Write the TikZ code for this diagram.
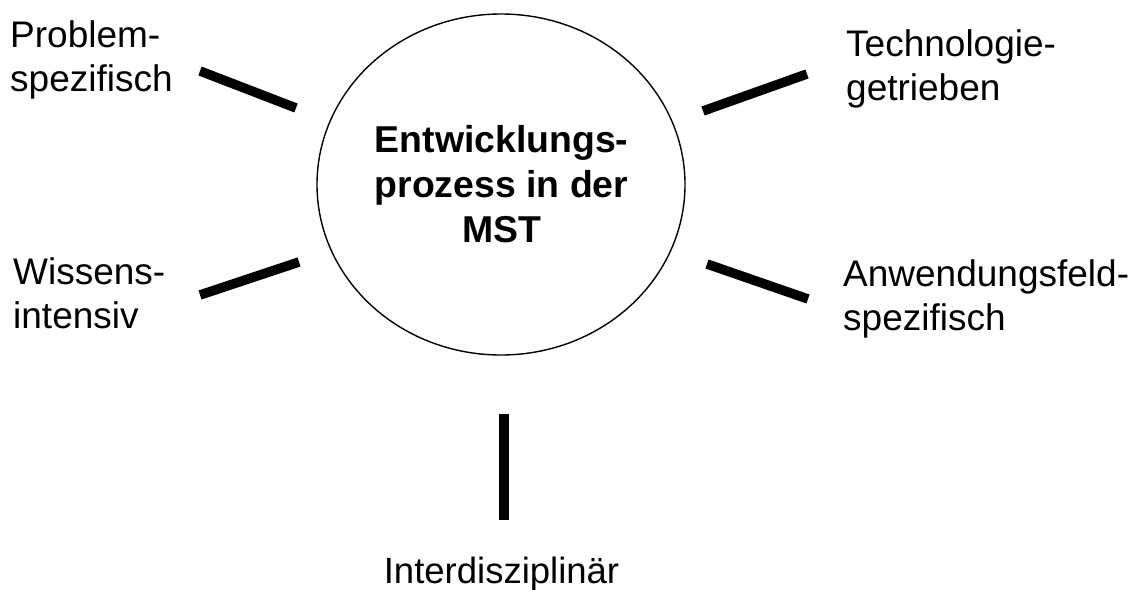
\documentclass[tikz,border=0pt]{standalone}
\usepackage{fontspec}
\setmainfont{Liberation Sans}
\begin{document}
\begin{tikzpicture}[x=1pt,y=-1pt,
  label/.style={inner sep=0pt, align=left, font=\fontsize{37}{44}\selectfont},
  spoke/.style={line width=9.5pt, line cap=butt}]
  \useasboundingbox (0,0) rectangle (1135,589);

  % central process ellipse
  \draw[line width=1.4pt] (501,184.5) ellipse [x radius=184, y radius=170.5];
  \coordinate (core) at (501,184.5);
  % base anchor of a multi-line node sits on its last line
  \node[inner sep=0pt, align=center, font=\fontsize{37.4}{45}\selectfont\bfseries, anchor=base]
    (title) at (501.5,242) {Entwicklungs-\\prozess in der\\MST};

  % characteristic labels
  \node[label, anchor=base west] (prob) at (10,91) {Problem-\\spezifisch};
  \node[label, anchor=base west] (tech) at (846,100.5) {Technologie-\\getrieben};
  \node[label, anchor=base west] (wiss) at (13,328) {Wissens-\\intensiv};
  \node[label, anchor=base west] (anw)  at (843,330.5) {Anwendungsfeld-\\spezifisch};
  \node[label, font=\fontsize{36.5}{44}\selectfont, anchor=base] (inter) at (501.5,583) {Interdisziplinär};

  % spoke end points
  \coordinate (p1) at (200,71);  \coordinate (p2) at (296,108);
  \coordinate (t1) at (703,111); \coordinate (t2) at (807,74);
  \coordinate (w1) at (200,295); \coordinate (w2) at (299,262);
  \coordinate (a1) at (707,264); \coordinate (a2) at (808,299);
  \coordinate (i1) at (504,414); \coordinate (i2) at (504,520);

  \draw[spoke] (p1) -- (p2);
  \draw[spoke] (t1) -- (t2);
  \draw[spoke] (w1) -- (w2);
  \draw[spoke] (a1) -- (a2);
  \draw[spoke] (i1) -- (i2);
\end{tikzpicture}
\end{document}
